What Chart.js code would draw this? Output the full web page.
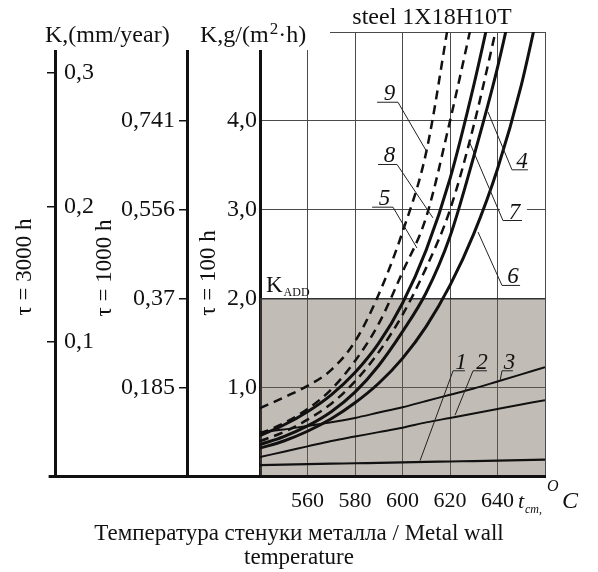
<!DOCTYPE html>
<html>
<head>
<meta charset="utf-8">
<script src="https://cdn.jsdelivr.net/npm/chart.js@4/dist/chart.umd.min.js"></script>
<style>
html,body{margin:0;padding:0;background:#fff;}
canvas{display:block;}
</style>
</head>
<body>
<canvas id="c" width="598" height="572"></canvas>
<script>
// ---------- data ----------
const temps   = [540,550,560,570,580,590,600,610,620,630,640,650,660];
const kLine1  = [0.13,0.135,0.14,0.145,0.15,0.155,0.16,0.165,0.17,0.175,0.18,0.185,0.19];
const kLine2  = [0.22,0.28,0.34,0.40,0.45,0.50,0.55,0.61,0.66,0.71,0.76,0.81,0.86];
const kLine3  = [0.50,0.53,0.57,0.61,0.66,0.72,0.78,0.85,0.92,0.99,1.07,1.15,1.23];
const kCurve4 = [0.36,0.45,0.57,0.73,0.95,1.25,1.63,2.07,2.70,3.60,4.60,5.80,null];
const kCurve5 = [0.48,0.60,0.76,0.98,1.30,1.72,2.30,2.92,4.00,5.20,null,null,null];
const kCurve6 = [0.32,0.40,0.51,0.65,0.83,1.05,1.33,1.69,2.15,2.73,3.46,4.40,5.60];
const kCurve7 = [0.40,0.50,0.64,0.82,1.07,1.40,1.82,2.35,3.00,3.95,5.10,null,null];
const kCurve8 = [0.46,0.58,0.73,0.92,1.17,1.50,1.95,2.55,3.35,4.40,5.60,null,null];
const kCurve9 = [0.77,0.89,1.02,1.20,1.52,2.05,2.75,3.65,5.20,null,null,null,null];
const kAdd = 2.0;

const xTickLabels   = [560,580,600,620,640];
const kTickLabels   = [1,2,3,4];
const tau1000Ticks  = [0.185,0.37,0.556,0.741];
const tau3000Ticks  = [0.1,0.2,0.3];
const xRange = [540,660];
const kRange = [0,5];
const tau1000Max = 0.926;
const tau3000Max = 0.33;
const baselineX = [451,660];

// ---------- styling / layout (not data) ----------
const INK = '#111';
const GRID = '#4a4a4a';
const FONT = "'Liberation Serif','Times New Roman',serif";
Chart.defaults.font.family = FONT;
Chart.defaults.color = INK;

const pts = arr => temps.map((t,i)=>({x:t,y:arr[i]})).filter(p=>p.y!==null);
const curveStyles = [
  {k:kLine1,  w:2.2, dash:[]},
  {k:kLine2,  w:2,   dash:[]},
  {k:kLine3,  w:2,   dash:[]},
  {k:kCurve4, w:3,   dash:[]},
  {k:kCurve5, w:2.5, dash:[9,6]},
  {k:kCurve6, w:3,   dash:[]},
  {k:kCurve7, w:2.5, dash:[9,6]},
  {k:kCurve8, w:3,   dash:[]},
  {k:kCurve9, w:2.5, dash:[9,6]}
];

const datasets = curveStyles.map(s => ({
  data: pts(s.k), borderColor: INK, borderWidth: s.w, borderDash: s.dash,
  pointRadius: 0, cubicInterpolationMode: 'monotone', fill: false, order: 1
}));
// permissible corrosion zone (K <= K_ADD)
datasets.push({
  data: [{x:xRange[0],y:kAdd},{x:xRange[1],y:kAdd}],
  borderColor: '#333', borderWidth: 1.6, backgroundColor: 'rgba(110,95,80,0.42)',
  fill: 'origin', pointRadius: 0, order: 5
});
// base line extended under the auxiliary scales
datasets.push({
  data: baselineX.map(v=>({x:v,y:0})), borderColor: INK, borderWidth: 3,
  pointRadius: 0, clip: false, order: 0
});

// curve number labels: underline (2 points) + leader to curve, in data units
const curveLabelLayout = [
  {text:'9', line:[[589.3,4.21],[598.1,4.21],[610.3,3.65]]},
  {text:'8', line:[[589.7,3.51],[597.7,3.51],[612.8,2.91]]},
  {text:'5', line:[[587.2,3.03],[596.0,3.03],[606.1,2.57]]},
  {text:'4', line:[[652.8,3.45],[646.1,3.45],[636.0,4.10]]},
  {text:'7', line:[[650.3,2.88],[642.3,2.88],[628.4,3.75]], mask:true},
  {text:'6', line:[[649.5,2.15],[641.9,2.15],[631.8,2.75]]},
  {text:'1', line:[[626.3,1.19],[621.3,1.19],[607.4,0.18]]},
  {text:'2', line:[[635.6,1.19],[629.7,1.19],[622.1,0.69]]},
  {text:'3', line:[[646.5,1.19],[641.9,1.19],[641.1,1.08]]}
];

const annotations = {
  id: 'annotations',
  afterDraw(chart) {
    const {ctx, chartArea: ca, scales} = chart;
    const px = v => scales.x.getPixelForValue(v);
    const py = v => scales.y.getPixelForValue(v);
    ctx.save();
    // white band behind the axis headings
    ctx.fillStyle = '#fff';
    ctx.fillRect(0, ca.top - 3, 330, 21);

    ctx.fillStyle = INK;
    ctx.textBaseline = 'alphabetic';
    ctx.textAlign = 'left';
    ctx.font = `24px ${FONT}`;
    ctx.fillText('K,(mm/year)', 45, 42);
    let x0 = 200;
    ctx.fillText('K,g/(m', x0, 42);
    x0 += ctx.measureText('K,g/(m').width;
    ctx.font = `17px ${FONT}`;
    ctx.fillText('2', x0 + 1, 34);
    x0 += ctx.measureText('2').width + 1;
    ctx.font = `24px ${FONT}`;
    ctx.fillText('·h)', x0, 42);

    ctx.textAlign = 'center';
    ctx.fillText('steel 1X18H10T', 432, 24);

    // K_ADD
    ctx.textAlign = 'left';
    ctx.font = `23px ${FONT}`;
    const kx = px(xRange[0]) + 6, ky = py(kAdd) - 7;
    ctx.fillText('K', kx, ky);
    const kw = ctx.measureText('K').width;
    ctx.font = `12px ${FONT}`;
    ctx.fillText('ADD', kx + kw + 1, ky + 4);

    // t_cm, oC
    const tb = 508;
    ctx.font = `italic 22px ${FONT}`;
    ctx.fillText('t', 518, tb);
    ctx.font = `italic 12px ${FONT}`;
    ctx.fillText('cm,', 525, tb + 5);
    ctx.font = `italic 16px ${FONT}`;
    ctx.fillText('O', 547, tb - 17);
    ctx.font = `italic 24px ${FONT}`;
    ctx.fillText('C', 562, tb);

    // tau labels (rotated)
    ctx.font = `23px ${FONT}`;
    ctx.textAlign = 'center';
    ctx.textBaseline = 'middle';
    [['τ = 3000 h', 25, 267], ['τ = 1000 h', 105, 268], ['τ = 100 h', 209, 273]].forEach(([t, cx, cy]) => {
      ctx.save();
      ctx.translate(cx, cy);
      ctx.rotate(-Math.PI / 2);
      ctx.fillText(t, 0, 0);
      ctx.restore();
    });

    // curve labels
    ctx.textBaseline = 'alphabetic';
    curveLabelLayout.forEach(l => {
      const p = l.line.map(([a, b]) => [px(a), py(b)]);
      const ux1 = Math.min(p[0][0], p[1][0]), ux2 = Math.max(p[0][0], p[1][0]);
      const uy = p[0][1];
      if (l.mask) {
        ctx.fillStyle = '#fff';
        ctx.fillRect(ux1 - 3, uy - 20, ux2 - ux1 + 8, 18);
      }
      ctx.strokeStyle = '#222';
      ctx.lineWidth = 1;
      ctx.beginPath();
      ctx.moveTo(p[0][0], p[0][1]);
      ctx.lineTo(p[1][0], p[1][1]);
      ctx.lineTo(p[2][0], p[2][1]);
      ctx.stroke();
      ctx.fillStyle = INK;
      ctx.font = `italic 23px ${FONT}`;
      ctx.textAlign = 'center';
      ctx.fillText(l.text, (ux1 + ux2) / 2 + 2, uy - 2);
    });
    ctx.restore();
  }
};

const commaFmt = v => String(v).replace('.', ',');

new Chart(document.getElementById('c'), {
  type: 'line',
  data: { datasets },
  options: {
    responsive: false,
    animation: false,
    events: [],
    layout: { padding: { top: 32, left: 0, right: 0, bottom: 2.1 } },
    plugins: {
      legend: { display: false },
      tooltip: { enabled: false },
      title: {
        display: true, position: 'bottom',
        text: ['Температура стенуки металла / Metal wall', 'temperature'],
        font: { size: 23, weight: 'normal', lineHeight: 1.05 },
        color: INK, padding: { top: 5, bottom: 0 }
      }
    },
    scales: {
      x: {
        type: 'linear', min: xRange[0], max: xRange[1],
        ticks: { stepSize: 20, padding: 11, font: { size: 22 }, color: INK,
                 callback: v => xTickLabels.includes(v) ? String(v) : '' },
        grid: { color: GRID, lineWidth: 1, drawTicks: false },
        border: { color: INK, width: 3 },
        afterFit: s => { s.height = 40; }
      },
      y: {
        type: 'linear', position: 'left', weight: 0, min: kRange[0], max: kRange[1],
        ticks: { stepSize: 1, padding: 3, font: { size: 24 }, color: INK,
                 callback: v => kTickLabels.includes(v) ? v.toFixed(1).replace('.', ',') : '' },
        grid: { color: GRID, lineWidth: 1, drawTicks: false },
        border: { color: INK, width: 3 },
        afterFit: s => { s.width = 73; }
      },
      y1000: {
        type: 'linear', axis: 'y', position: 'left', weight: 1, min: 0, max: tau1000Max,
        afterBuildTicks: s => { s.ticks = tau1000Ticks.map(v => ({ value: v })); },
        ticks: { padding: 4, font: { size: 24 }, color: INK, callback: v => commaFmt(v) },
        grid: { drawOnChartArea: false, drawTicks: true, tickLength: 8, color: INK, lineWidth: 1.5 },
        border: { color: INK, width: 3 },
        afterFit: s => { s.width = 132; }
      },
      y3000: {
        type: 'linear', axis: 'y', position: 'left', weight: 2, min: 0, max: tau3000Max,
        afterBuildTicks: s => { s.ticks = tau3000Ticks.map(v => ({ value: v })); },
        ticks: { mirror: true, padding: 9, font: { size: 24 }, color: INK, callback: v => commaFmt(v) },
        grid: { drawOnChartArea: false, drawTicks: true, tickLength: 8, color: INK, lineWidth: 1.5 },
        border: { color: INK, width: 3 },
        afterFit: s => { s.width = 55; }
      },
      yRight: {
        type: 'linear', axis: 'y', position: 'right', min: 0, max: 1,
        ticks: { display: false }, grid: { display: false }, border: { display: false },
        afterFit: s => { s.width = 53; }
      }
    }
  },
  plugins: [annotations]
});
</script>
</body>
</html>
